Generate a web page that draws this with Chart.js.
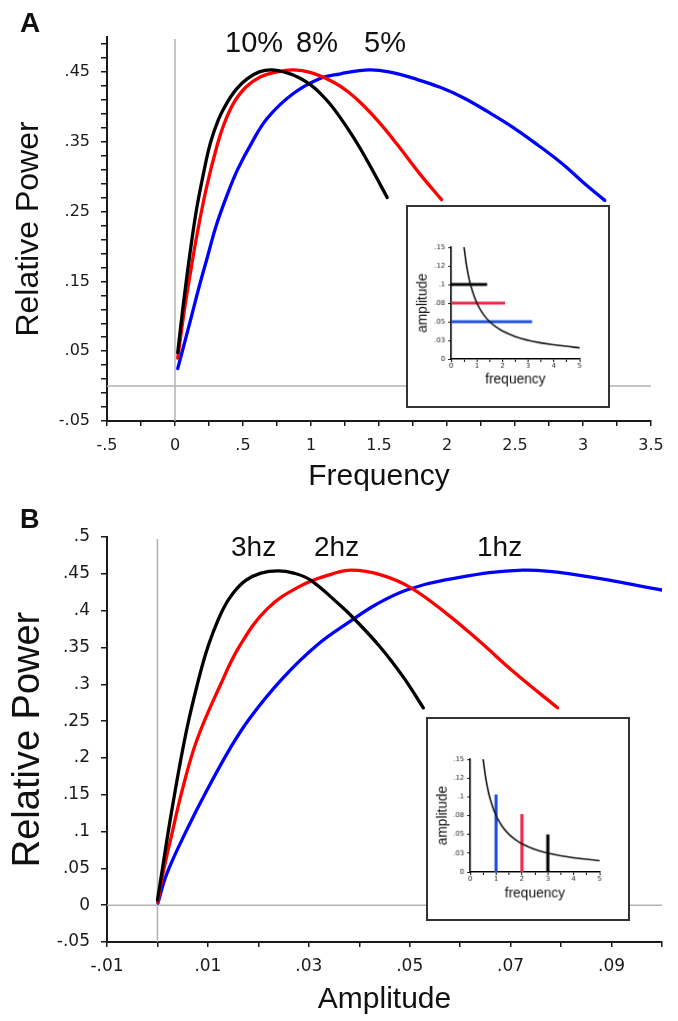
<!DOCTYPE html>
<html><head><meta charset="utf-8">
<script src="https://cdn.jsdelivr.net/npm/chart.js@4.4.0/dist/chart.umd.min.js"></script>
<style>
html,body{margin:0;padding:0;background:#fff;}
body{width:678px;height:1021px;position:relative;overflow:hidden;font-family:"Liberation Sans",Arial,sans-serif;}
canvas{position:absolute;display:block;}
.lbl{position:absolute;color:#111;white-space:nowrap;line-height:1;font-family:"Liberation Sans",Arial,sans-serif;}
.inset{border:2px solid #333;background:#fff;}
</style></head><body>
<canvas id="cA" width="678" height="500" style="left:0;top:0"></canvas>
<canvas id="cB" width="678" height="531" style="left:0;top:490px"></canvas>
<canvas id="iA" class="inset" width="204" height="203" style="left:406px;top:205px"></canvas>
<canvas id="iB" class="inset" width="204" height="204" style="left:426px;top:717px"></canvas>
<div class="lbl" style="left:20px;top:9px;font-size:28px;font-weight:bold">A</div>
<div class="lbl" style="left:20px;top:506px;font-size:27px;font-weight:bold">B</div>
<div class="lbl" style="left:225px;top:28px;font-size:29px">10%</div>
<div class="lbl" style="left:296px;top:28px;font-size:29px">8%</div>
<div class="lbl" style="left:364px;top:28px;font-size:29px">5%</div>
<div class="lbl" style="left:231px;top:533px;font-size:28px">3hz</div>
<div class="lbl" style="left:314px;top:533px;font-size:28px">2hz</div>
<div class="lbl" style="left:477px;top:533px;font-size:28px">1hz</div>
<script>
// ---------- Panel A data (Frequency vs Relative Power) ----------
const freqA10 = [0.02,0.06,0.11,0.16,0.21,0.26,0.32,0.38,0.45,0.53,0.62,0.71,0.82,0.92,1.0,1.07,1.14,1.21,1.29,1.36,1.43,1.5,1.56];
const powA10  = [0.048,0.115,0.19,0.255,0.305,0.348,0.382,0.405,0.425,0.44,0.45,0.453,0.449,0.441,0.431,0.419,0.404,0.386,0.363,0.341,0.317,0.292,0.27];
const freqA8  = [0.02,0.07,0.12,0.16,0.23,0.31,0.36,0.43,0.52,0.63,0.75,0.87,1.0,1.16,1.27,1.38,1.5,1.63,1.8,1.96];
const powA8   = [0.04,0.11,0.17,0.215,0.283,0.345,0.375,0.405,0.428,0.443,0.45,0.453,0.449,0.436,0.422,0.403,0.378,0.347,0.304,0.267];
const freqA5  = [0.02,0.07,0.12,0.18,0.24,0.3,0.38,0.46,0.56,0.68,0.87,1.07,1.21,1.43,1.6,1.75,1.95,2.12,2.3,2.49,2.67,2.85,3.0,3.16];
const powA5   = [0.025,0.062,0.099,0.144,0.186,0.228,0.272,0.31,0.347,0.384,0.419,0.441,0.447,0.453,0.449,0.441,0.428,0.413,0.393,0.37,0.345,0.318,0.292,0.266];
const xLabelsA = [-0.5,0,0.5,1,1.5,2,2.5,3,3.5];
const yLabelsA = [-0.05,0.05,0.15,0.25,0.35,0.45];

// ---------- Panel B data (Amplitude vs Relative Power) ----------
const ampB3 = [0,0.001,0.002,0.003,0.0045,0.006,0.0078,0.0095,0.011,0.013,0.0149,0.0175,0.0205,0.0239,0.027,0.0302,0.0361,0.0387,0.0441,0.0487,0.0527];
const powB3 = [0.007,0.05,0.094,0.135,0.193,0.245,0.297,0.34,0.37,0.402,0.423,0.441,0.451,0.454,0.451,0.442,0.408,0.391,0.351,0.31,0.268];
const ampB2 = [0.0001,0.0011,0.0029,0.0049,0.0078,0.0124,0.0163,0.0217,0.0282,0.0347,0.0385,0.0441,0.05,0.0573,0.0639,0.0704,0.0793];
const powB2 = [0.004,0.0435,0.098,0.156,0.224,0.298,0.352,0.402,0.433,0.45,0.455,0.449,0.432,0.396,0.358,0.318,0.268];
const ampB1 = [0.0001,0.0019,0.0058,0.0098,0.0144,0.0183,0.0248,0.0316,0.0381,0.0435,0.0494,0.0573,0.0724,0.0837,0.1];
const powB1 = [0.003,0.0435,0.102,0.156,0.213,0.254,0.308,0.353,0.385,0.409,0.428,0.442,0.455,0.448,0.428];
const xLabelsB = [-0.01,0.01,0.03,0.05,0.07,0.09];
const yLabelsB = [-0.05,0,0.05,0.1,0.15,0.2,0.25,0.3,0.35,0.4,0.45,0.5];

// ---------- Inset data (frequency vs amplitude) ----------
const insetFreq = [0.5,0.6,0.7,0.8,1,1.25,1.5,1.75,2,2.5,3,3.5,4,4.5,5];
const insetAmp  = [0.15,0.125,0.107,0.094,0.075,0.06,0.05,0.043,0.0375,0.03,0.025,0.0215,0.019,0.017,0.015];
const insetALevels = [0.1,0.075,0.05];
const insetAEnds   = [1.4,2.1,3.15];
const insetBFreqs   = [1,2,3];
const insetBHeights = [0.103,0.077,0.05];
const insetXLabels = [0,1,2,3,4,5];
const insetYValues = [0,0.025,0.05,0.075,0.1,0.125,0.15];
const insetYLabels = ['0','.03','.05','.08','.1','.12','.15'];

// ---------- helpers ----------
const r4 = v => Math.round(v*10000)/10000;
function fmt(v){ v = r4(v); if (v === 0) return '0'; const s = String(Math.abs(v)).replace(/^0\./,'.'); return (v<0?'-':'') + s; }
function seq(a,b,st){ const out=[]; const n=Math.round((b-a)/st); for(let i=0;i<=n;i++) out.push(r4(a+i*st)); return out; }
const has = (arr,v) => arr.some(u => Math.abs(u - v) < 1e-6);
const pts = (xs,ys) => xs.map((x,i)=>({x, y: ys[i]}));

const INK = '#1a1a1a';
function curve(xs, ys, color, w){
  return { data: pts(xs,ys), showLine:true, borderColor:color, backgroundColor:color, borderWidth:w||3.3,
    pointRadius:0, pointHoverRadius:0, tension:0.4, borderCapStyle:'round', borderJoinStyle:'round' };
}
const zeroLines = { id:'zeroLines', beforeDatasetsDraw(chart){
  const {ctx, chartArea:a, scales:{x,y}} = chart;
  const px = x.getPixelForValue(0), py = y.getPixelForValue(0);
  ctx.save(); ctx.strokeStyle='#b2b2b2'; ctx.lineWidth=1.5; ctx.beginPath();
  ctx.moveTo(px, a.top+2); ctx.lineTo(px, a.bottom);
  ctx.moveTo(a.left, py); ctx.lineTo(a.right, py); ctx.stroke(); ctx.restore();
}};

function mainScales(o){
  return {
    x: { type:'linear', min:o.xmin, max:o.xmax,
      afterBuildTicks: s => { s.ticks = o.xTicks.map(v=>({value:v})); },
      afterFit: s => { s.height = o.xh; },
      border:{color:INK, width:2},
      grid:{drawOnChartArea:false, tickLength:5, tickColor:INK, tickWidth:1.5, lineWidth:1.5},
      ticks:{autoSkip:false, maxRotation:0, padding:o.xpad, color:INK, font:{family:'DejaVu Sans', size:o.tick},
        callback: v => has(o.xLabels, v) ? fmt(v) : ''},
      title:{display:true, text:o.xTitle, color:'#111', font:{family:'Liberation Sans', size:30, lineHeight:1.2}, padding:{top:0,bottom:o.xtpad}}
    },
    y: { type:'linear', min:o.ymin, max:o.ymax,
      afterBuildTicks: s => { s.ticks = o.yTicks.map(v=>({value:v})); },
      afterFit: s => { s.width = 107; },
      border:{color:INK, width:2},
      grid:{drawOnChartArea:false, tickLength:6, tickColor:INK, tickWidth:1.5, lineWidth:1.5},
      ticks:{autoSkip:false, padding:11, color:INK, font:{family:'DejaVu Sans', size:o.tick},
        callback: v => has(o.yLabels, v) ? fmt(v) : ''},
      title:{display:true, text:'Relative Power', color:'#111', font:{family:'Liberation Sans', size:o.ytSize, lineHeight:1.2}, padding:{top:o.ytpad,bottom:0}}
    }
  };
}
const common = { responsive:false, animation:false, events:[],
  plugins:{legend:{display:false}, tooltip:{enabled:false}} };

new Chart(document.getElementById('cA'), {
  type:'scatter',
  data:{ datasets:[ curve(freqA10, powA10, '#000000'), curve(freqA8, powA8, '#ff0000'), curve(freqA5, powA5, '#0000ff') ] },
  options:Object.assign({}, common, {
    layout:{padding:{top:37, right:27, left:0, bottom:0}},
    scales: mainScales({xmin:-0.5, xmax:3.5, xTicks:seq(-0.5,3.5,0.25), xLabels:xLabelsA, xh:79, xpad:10, xTitle:'Frequency', xtpad:5,
      ymin:-0.05, ymax:0.5, yTicks:seq(-0.05,0.49,0.02), yLabels:yLabelsA, tick:16, ytSize:32, ytpad:10})
  }),
  plugins:[zeroLines]
});

new Chart(document.getElementById('cB'), {
  type:'scatter',
  data:{ datasets:[ curve(ampB3, powB3, '#000000'), curve(ampB2, powB2, '#ff0000'), curve(ampB1, powB1, '#0000ff') ] },
  options:Object.assign({}, common, {
    layout:{padding:{top:47, right:16, left:0, bottom:0}},
    scales: mainScales({xmin:-0.01, xmax:0.1, xTicks:seq(-0.01,0.1,0.01), xLabels:xLabelsB, xh:79, xpad:9, xTitle:'Amplitude', xtpad:3,
      ymin:-0.05, ymax:0.5, yTicks:seq(-0.05,0.5,0.05), yLabels:yLabelsB, tick:17, ytSize:38, ytpad:6})
  }),
  plugins:[zeroLines]
});

function insetScales(yw, xh, tpadX, tpadY){
  return {
    x:{ type:'linear', min:0, max:5,
      afterBuildTicks: s => { s.ticks = seq(0,5,0.5).map(v=>({value:v})); },
      afterFit: s => { s.height = xh; },
      border:{color:'#000', width:1.6},
      grid:{drawOnChartArea:false, tickLength:3, tickColor:'#000', tickWidth:1, lineWidth:1},
      ticks:{autoSkip:false, maxRotation:0, padding:0, color:'#222', font:{family:'DejaVu Sans', size:7},
        callback: v => has(insetXLabels, v) ? String(r4(v)) : ''},
      title:{display:true, text:'frequency', color:'#111', font:{family:'Liberation Sans', size:14, lineHeight:1.2}, padding:{top:0,bottom:tpadX}}
    },
    y:{ type:'linear', min:0, max:0.15,
      afterBuildTicks: s => { s.ticks = insetYValues.map(v=>({value:v})); },
      afterFit: s => { s.width = yw; },
      border:{color:'#000', width:1.6},
      grid:{drawOnChartArea:false, tickLength:3, tickColor:'#000', tickWidth:1, lineWidth:1},
      ticks:{autoSkip:false, padding:3, color:'#222', font:{family:'DejaVu Sans', size:7},
        callback: (v) => { const i = insetYValues.findIndex(u=>Math.abs(u-v)<1e-6); return i>=0 ? insetYLabels[i] : ''; }},
      title:{display:true, text:'amplitude', color:'#111', font:{family:'Liberation Sans', size:14, lineHeight:1.2}, padding:{top:tpadY,bottom:0}}
    }
  };
}
const insetColors = ['#000000','#f0284a','#1f4fe0'];
const hLines = insetALevels.map((lv,i)=>Object.assign(curve([0, insetAEnds[i]], [lv, lv], insetColors[i], 3.2), {borderCapStyle:'butt', tension:0, order:2}));
new Chart(document.getElementById('iA'), {
  type:'scatter',
  data:{ datasets:[ Object.assign(curve(insetFreq, insetAmp, '#111', 1.6), {order:0}), ...hLines ] },
  options:Object.assign({}, common, {
    layout:{padding:{top:41, right:29, left:0, bottom:0}},
    scales: insetScales(44, 48, 18, 7)
  })
});
const barColors = ['#1f4fe0','#f0284a','#000000'];
const vLines = insetBFreqs.map((f,i)=>Object.assign(curve([f, f], [0, insetBHeights[i]], barColors[i], 3.2), {borderCapStyle:'butt', tension:0, order:2}));
new Chart(document.getElementById('iB'), {
  type:'scatter',
  data:{ datasets:[ Object.assign(curve(insetFreq, insetAmp, '#111', 1.6), {order:0}), ...vLines ] },
  options:Object.assign({}, common, {
    layout:{padding:{top:41, right:29, left:0, bottom:0}},
    scales: insetScales(43, 48, 17, 7)
  })
});
</script>
</body></html>
